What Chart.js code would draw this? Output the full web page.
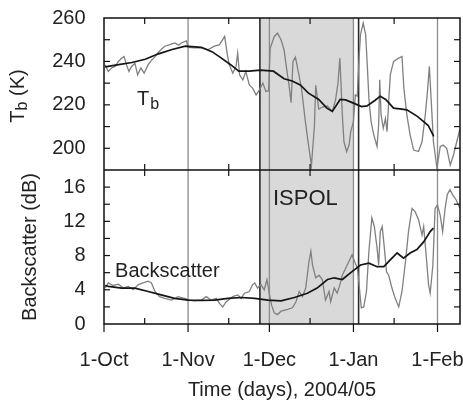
<!DOCTYPE html>
<html>
<head>
<meta charset="utf-8">
<script src="https://cdn.jsdelivr.net/npm/chart.js@4.4.1/dist/chart.umd.min.js"></script>
<style>
  html, body { margin: 0; padding: 0; background: #fff; }
  #chart { display: block; }
</style>
</head>
<body>
<canvas id="chart" width="463" height="410"></canvas>
<script>
// x values are days since 1 Oct 2004
const monthDays = [0, 31, 61, 92, 123];
const monthLabels = ['1-Oct', '1-Nov', '1-Dec', '1-Jan', '1-Feb'];
const midMonthDays = [15, 46, 76, 107];
const tbTicks = [200, 220, 240, 260];
const bsTicks = [0, 4, 8, 12, 16];
const ispolLines = [57.5, 93.9];
const ispolShade = [57.5, 92.2];

// brightness temperature, daily (gray) and smoothed (black)
const tbDays = [0.4,1.6,2.8,4.1,5.3,6.5,7.4,8.3,9.2,10.2,11.4,12.4,13.6,14.8,16.3,17.5,18.7,19.9,21.1,22.4,
  24.3,26.1,27.5,28.5,30.4,31,33.4,35.9,38.3,40.7,42.6,44.5,45.5,46.2,47.5,48.7,49.3,50,51.2,52.3,
  53.6,54.8,56.1,57.3,58.6,59.7,60.7,61.3,62.8,64,65.3,66.4,67.4,68.3,69,69.7,70.6,71.7,72.8,74.4,
  75.6,76.5,77.6,78.1,79.2,80.5,82.4,84.2,85.4,86.3,87,87.9,88.5,89.5,90.4,91,92,92.7,93.4,94,
  94.6,95.6,96.5,97.1,97.7,98.5,99.5,100.7,101.3,101.7,102.2,103,103.8,104.4,105,105.6,106.8,108.7,109.9,110.6,
  111.7,112.9,114.2,116,117.3,118.5,119.3,120,120.9,121.5,122.8,124,125.1,126.4,127.7,128.9,130.1,131.3];
const tbDaily = [238.5,235.4,237,237.7,240,241.5,242.3,238.5,235.4,237.7,239.2,233.8,237,234.6,238.5,240.5,242,244,245.5,247,
  247.7,248.5,247.5,248.5,249.5,246.5,246.2,246.2,245.4,247,247.7,251.5,243,238.5,234.6,237.7,243.8,233.8,231.5,235.4,
  229.2,227.7,224.6,226.9,230,226.2,226.5,246,251.5,253,250,245.4,236.2,228.5,221,240,242,235,228,211,
  200,192,210,229,218,219,219.5,217,222.3,230,241.5,215.4,203,198.5,201.5,207.7,212.3,224.6,224,240,
  252.3,257.7,252.3,238.5,223,212.3,206.2,200.8,210.8,231.5,215.4,209.2,213.8,207.7,221.5,233.8,240,241.5,242.3,227.7,
  215.4,206.2,199.2,198.5,203,215.4,226.2,237.7,217,203,190.8,200.8,201.5,200,192.3,196.9,203,209];
const tbSmoothDays = [0.4,5.4,10.3,15.2,20.1,25.1,30,35.9,39.8,42.8,46.7,49.7,53.6,57.6,62.5,66.4,69.4,72.4,75.3,79.2,
  82.2,84.2,87.1,89.1,92,95,97,99.9,101.9,103.9,106.8,109.8,111.7,115.7,119.6,121.6];
const tbSmooth = [237.5,238.5,239.5,241,243.5,245.5,247,246.5,244.5,242,238.5,235.5,235.5,236,235.5,232,231,229.2,225.5,222.5,
  218.5,217,222.5,222.3,220.8,219.2,219.5,222,224,222.5,218.5,218,217.7,214.6,210.5,205.5];

// backscatter, daily (gray) and smoothed (black)
const bsDays = [0.4,1.6,3.4,5.3,7.1,8.9,10.8,12.7,14.4,16.3,17.5,18.8,20.5,22.4,24.9,27.3,29.7,31.6,33.4,35.9,
  37.7,39.5,41.4,42.6,43.8,45.1,47.5,49.3,50.6,51.8,53.6,54.8,55.6,56.6,57.9,59.1,60.1,61,61.8,62.8,
  64,65.3,67.7,69.5,70.8,72,73.2,74.4,75.6,76.3,76.9,78.1,79.3,80.5,81.7,83,83.6,84.9,86,87,
  87.9,89.7,91.5,92.4,93.5,94.2,94.9,95.8,96.8,97.7,98.8,99.7,100.7,101.3,101.9,102.6,103.4,104.2,105,106.2,
  107.4,108.7,109.9,111.2,112.3,113.6,114.8,116,117.3,117.9,118.7,119.7,120.3,121.3,122.1,123,124,124.9,125.8,126.6,
  127.6,128.6,129.9,131.3];
const bsDaily = [4.2,4.8,4.5,4.65,4.2,4.4,4,4.6,4.8,5,4.8,3.8,3.2,3,2.8,3.2,3,2.8,2.7,2.8,
  3.2,2.8,3,2.4,2,2.6,3.2,3.4,3,3.6,3.8,4.6,4.8,4.2,4.6,4,5.2,3.5,2.2,1.3,
  1.1,1.5,1.7,1.9,2.6,3.8,3.2,4.2,7.3,8.5,6.9,5.4,5.7,5.2,2.8,3.8,2.6,4.2,3.6,4.6,
  5.7,6.9,8.1,7.3,6.5,4.2,1.9,2,3.8,8.5,12.4,11.4,8.9,6.9,10.8,11.4,8.9,6.1,5.7,4.2,
  3,2,3.8,7.3,10.8,13.5,13.1,12.2,10.4,11.4,8.5,4.6,3.6,6.9,13.5,13.9,12.7,10.8,13.5,15.1,
  15.7,15.1,14.5,13.5];
const bsSmoothDays = [0.4,1.6,6.5,11.4,16.3,21.1,26,31,35.9,40.8,45.7,50.7,55.6,60.5,65.3,70.2,75,78.6,82.4,84.9,
  87.9,91,94.6,97.7,100.7,103.2,105.6,108.1,110.5,112.9,115.4,117.9,120.3,121.5];
const bsSmooth = [4.5,4.4,4.2,4.2,3.8,3.4,3,2.8,2.75,2.8,3,3.1,3,2.8,2.7,3.1,3.6,4.2,5.2,5.4,
  5.2,6,6.9,7.1,6.7,6.7,7.5,8.3,7.7,8.3,8.7,9.6,10.8,11.2];

const FONT = '"Liberation Sans", Arial, Helvetica, sans-serif';
const INK = '#222';
const pts = (xs, ys) => xs.map((d, i) => ({x: d, y: ys[i]}));

Chart.defaults.font.family = FONT;
Chart.defaults.font.size = 20;
Chart.defaults.color = INK;

function line(ctx, x1, y1, x2, y2) {
  ctx.beginPath();
  ctx.moveTo(x1, y1);
  ctx.lineTo(x2, y2);
  ctx.stroke();
}

const panels = {
  id: 'panels',
  beforeDatasetsDraw(chart) {
    const {ctx, chartArea: a, scales: {x}} = chart;
    ctx.save();
    // ISPOL period
    const s0 = x.getPixelForValue(ispolShade[0]);
    const s1 = x.getPixelForValue(ispolShade[1]);
    ctx.fillStyle = '#d9d9d9';
    ctx.fillRect(s0, a.top, s1 - s0, a.bottom - a.top);
    // month separators
    ctx.strokeStyle = '#8c8c8c';
    ctx.lineWidth = 1.3;
    monthDays.slice(1).forEach(d => {
      const p = x.getPixelForValue(d);
      line(ctx, p, a.top, p, a.bottom);
    });
    ctx.strokeStyle = '#2a2a2a';
    ctx.lineWidth = 1.6;
    ispolLines.forEach(d => {
      const p = x.getPixelForValue(d);
      line(ctx, p, a.top, p, a.bottom);
    });
    ctx.restore();
  },
  afterDatasetsDraw(chart) {
    const {ctx, chartArea: a, scales: {x, y, y2}} = chart;
    ctx.save();
    ctx.strokeStyle = '#111';
    ctx.lineWidth = 1.5;
    ctx.strokeRect(a.left, a.top, a.right - a.left, a.bottom - a.top);
    line(ctx, a.left, y.bottom, a.right, y.bottom);

    // inward tick marks
    ctx.lineWidth = 1.2;
    const yMarks = (scale, step) => {
      for (let v = scale.min + step; v < scale.max - step / 2; v += step) {
        const p = scale.getPixelForValue(v);
        line(ctx, a.left, p, a.left + 6, p);
        line(ctx, a.right, p, a.right - 6, p);
      }
    };
    yMarks(y, 10);
    yMarks(y2, 2);
    midMonthDays.forEach(d => {
      const p = x.getPixelForValue(d);
      line(ctx, p, a.top, p, a.top + 6);
      line(ctx, p, y.bottom, p, y.bottom - 6);
      line(ctx, p, y.bottom, p, y.bottom + 6);
      line(ctx, p, a.bottom, p, a.bottom - 6);
    });
    monthDays.forEach(d => {
      const p = x.getPixelForValue(d);
      line(ctx, p, a.bottom, p, a.bottom + 8);
    });

    // in-panel labels
    ctx.fillStyle = INK;
    ctx.textBaseline = 'alphabetic';
    ctx.textAlign = 'left';
    ctx.font = '20px ' + FONT;
    const px = x.getPixelForValue(12.2), py = y.getPixelForValue(220);
    ctx.fillText('T', px, py);
    const tw = ctx.measureText('T').width;
    ctx.font = '16px ' + FONT;
    ctx.fillText('b', px + tw + 1, py + 4);
    ctx.font = '20px ' + FONT;
    ctx.fillText('Backscatter', x.getPixelForValue(4.1), y2.getPixelForValue(5.5));
    ctx.font = '22px ' + FONT;
    ctx.fillText('ISPOL', x.getPixelForValue(62.3), y2.getPixelForValue(13.9));
    ctx.restore();
  },
  afterDraw(chart) {
    // rotated Tb (K) title with subscript
    const {ctx, scales: {y}} = chart;
    ctx.save();
    ctx.fillStyle = INK;
    ctx.translate(y.left + 18.5, (y.top + y.bottom) / 2 + 2);
    ctx.rotate(-Math.PI / 2);
    ctx.textBaseline = 'middle';
    ctx.textAlign = 'left';
    ctx.font = '20px ' + FONT;
    const wT = ctx.measureText('T').width;
    const wK = ctx.measureText(' (K)').width;
    ctx.font = '16px ' + FONT;
    const wb = ctx.measureText('b').width;
    const start = -(wT + wb + wK) / 2;
    ctx.font = '20px ' + FONT;
    ctx.fillText('T', start, 0);
    ctx.fillText(' (K)', start + wT + wb, 0);
    ctx.font = '16px ' + FONT;
    ctx.fillText('b', start + wT, 4);
    ctx.restore();
  }
};

const data = {
  datasets: [
    {data: pts(tbSmoothDays, tbSmooth), yAxisID: 'y', borderColor: '#151515', borderWidth: 1.7},
    {data: pts(bsSmoothDays, bsSmooth), yAxisID: 'y2', borderColor: '#151515', borderWidth: 1.7},
    {data: pts(tbDays, tbDaily), yAxisID: 'y', borderColor: '#808080', borderWidth: 1.3},
    {data: pts(bsDays, bsDaily), yAxisID: 'y2', borderColor: '#808080', borderWidth: 1.3}
  ]
};

// left-hand stacked axes are laid out in reverse order, so the lower panel comes first here
const config = {
  type: 'line',
  data: data,
  options: {
    responsive: false,
    animation: false,
    events: [],
    layout: {padding: {top: 18, right: 3, left: 0, bottom: 0}},
    elements: {point: {radius: 0}, line: {tension: 0, fill: false}},
    plugins: {legend: {display: false}, tooltip: {enabled: false}},
    scales: {
      x: {
        type: 'linear',
        position: 'bottom',
        min: 0,
        max: 131.3,
        border: {display: false},
        grid: {display: false, drawTicks: false},
        ticks: {
          autoSkip: false,
          maxRotation: 0,
          padding: 24.5,
          callback: (v, i) => monthLabels[i]
        },
        afterBuildTicks: s => { s.ticks = monthDays.map(v => ({value: v})); },
        afterFit: s => { s.height = 86; s.paddingLeft = 0; s.paddingRight = 0; },
        title: {display: true, text: 'Time (days), 2004/05', padding: {top: 0, bottom: 8}}
      },
      y2: {
        type: 'linear',
        position: 'left',
        stack: 'panels',
        stackWeight: 154,
        min: 0,
        max: 18,
        border: {display: false},
        grid: {display: false, drawTicks: false},
        ticks: {padding: 18.5, autoSkip: false},
        afterBuildTicks: s => { s.ticks = bsTicks.map(v => ({value: v})); },
        afterFit: s => { s.width = 104; s.paddingTop = 0; s.paddingBottom = 0; },
        title: {display: true, text: 'Backscatter (dB)', padding: {top: 18, bottom: 0}}
      },
      y: {
        type: 'linear',
        position: 'left',
        stack: 'panels',
        stackWeight: 152,
        min: 190,
        max: 260,
        border: {display: false},
        grid: {display: false, drawTicks: false},
        ticks: {padding: 18.5, autoSkip: false},
        afterBuildTicks: s => { s.ticks = tbTicks.map(v => ({value: v})); },
        afterFit: s => { s.width = 104; s.paddingTop = 0; s.paddingBottom = 0; },
        title: {display: false}
      }
    }
  },
  plugins: [panels]
};

const chart = new Chart(document.getElementById('chart'), config);
</script>
</body>
</html>
